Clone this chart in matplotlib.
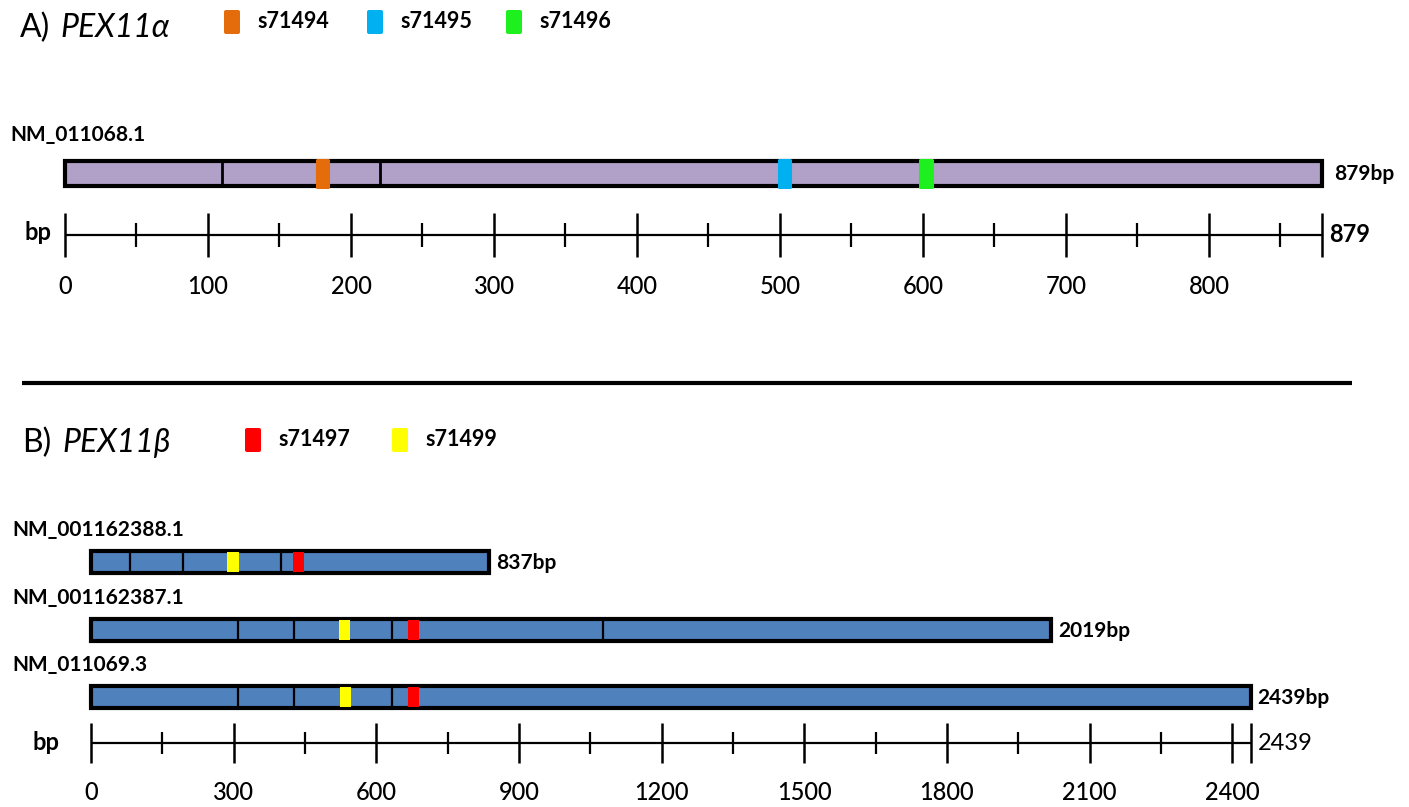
import numpy as np
import matplotlib.pyplot as plt
from matplotlib.patches import Rectangle, FancyBboxPatch

plt.rcParams['font.family'] = ['Lato', 'DejaVu Sans']

W, H = 1409, 807

# PEX11alpha transcript
a_name = "NM_011068.1"
a_length = 879
a_exon_bounds = [110, 220]
a_sirna_names = ["s71494", "s71495", "s71496"]
a_sirna_pos = [180, 503, 602]
a_sirna_colors = ["#E46C0A", "#00B0F0", "#1EEF1E"]

# PEX11beta transcripts
b_names = ["NM_001162388.1", "NM_001162387.1", "NM_011069.3"]
b_lengths = [837, 2019, 2439]
b_exon_bounds = [[81, 194, 400], [309, 426, 634, 1076], [309, 426, 634]]
b_sirna_names = ["s71497", "s71499"]
b_sirna_colors = ["#FF0000", "#FFFF00"]
b_sirna_pos = [[436, 299], [678, 533], [678, 535]]


def panel_axes(fig, origin_px, px_per_bp):
    ax = fig.add_axes([0, 0, 1, 1])
    ax.set_xlim(-origin_px / px_per_bp, (W - origin_px) / px_per_bp)
    ax.set_ylim(H, 0)
    ax.axis("off")
    ax.patch.set_alpha(0)
    return ax


def draw_transcript(ax, y, length, bounds, sites, colors, face, bar_h,
                    site_w, site_h, lw_exon, rounded, label_dx):
    ax.barh(y, length, left=0, height=bar_h, color=face,
            edgecolor="black", linewidth=3, zorder=2)
    ax.vlines(bounds, y - bar_h / 2, y + bar_h / 2, color="black",
              lw=lw_exon, zorder=3)
    for pos, c in zip(sites, colors):
        ax.add_patch(Rectangle((pos - site_w / 2, y - site_h / 2), site_w, site_h,
                               facecolor=c, edgecolor=c,
                               lw=2.2 if rounded else 0, joinstyle="round",
                               zorder=4))
    ax.annotate(f"{length}bp", (length, y), xytext=(label_dx, -1),
                textcoords="offset points", ha="left", va="center",
                fontsize=15, fontweight="bold")


def draw_scale(ax, y, length, major, major_half, minor_half, label_dy, end_weight):
    ax.hlines(y, 0, length, color="black", lw=1.6)
    majors = np.arange(0, length + 1, major)
    minors = np.arange(major / 2, length, major)
    ax.vlines(list(majors) + [length], y - major_half, y + major_half,
              color="black", lw=1.8)
    ax.vlines(minors, y - minor_half, y + minor_half, color="black", lw=1.6)
    for m in majors:
        ax.text(m, y + label_dy, str(m), ha="center", va="center",
                fontsize=17, fontweight="medium")
    ax.annotate(str(length), (length, y), xytext=(5, 0),
                textcoords="offset points", ha="left", va="center",
                fontsize=17, fontweight=end_weight)


def legend_row(lay, xs, y, names, colors):
    for x, name, c in zip(xs, names, colors):
        lay.add_patch(FancyBboxPatch((x + 2, y - 10), 12, 20,
                                     boxstyle="round,pad=2",
                                     facecolor=c, edgecolor="none"))
        lay.text(x + 33, y - 1, name, ha="left", va="center",
                 fontsize=15.5, fontweight="bold")


fig = plt.figure(figsize=(W / 100, H / 100), dpi=100)

lay = fig.add_axes([0, 0, 1, 1])
lay.set_xlim(0, W)
lay.set_ylim(H, 0)
lay.axis("off")

# Panel A
lay.text(20, 28, "A)", fontsize=23, ha="left", va="center")
lay.text(60, 28, "PEX11α", fontsize=23, fontstyle="italic", ha="left", va="center")
legend_row(lay, [224, 367, 506], 22, a_sirna_names, a_sirna_colors)
lay.text(10, 135, a_name, fontsize=15, fontweight="bold", ha="left", va="center")
lay.text(25, 233, "bp", fontsize=17, fontweight="bold", ha="left", va="center")

axa = panel_axes(fig, 65, 1.43)
draw_transcript(axa, 173, a_length, a_exon_bounds, a_sirna_pos, a_sirna_colors,
                "#B1A0C7", 25, 8, 27, 2.0, True, 9)
draw_scale(axa, 235, a_length, 100, 22, 12, 52, "bold")

# separator
lay.hlines(383, 22, 1352, color="black", lw=3)

# Panel B
lay.text(22, 443, "B)", fontsize=23, ha="left", va="center")
lay.text(62, 443, "PEX11β", fontsize=23, fontstyle="italic", ha="left", va="center")
legend_row(lay, [245, 392], 440, b_sirna_names, b_sirna_colors)
lay.text(33, 742, "bp", fontsize=17, fontweight="bold", ha="left", va="center")

axb = panel_axes(fig, 91, 0.4755)
row_y = [562, 630, 697]
for y, name, length, bounds, sites in zip(row_y, b_names, b_lengths,
                                           b_exon_bounds, b_sirna_pos):
    lay.text(12, y - 32, name, fontsize=15, fontweight="bold",
             ha="left", va="center")
    draw_transcript(axb, y, length, bounds, sites, b_sirna_colors,
                    "#4F81BD", 22, 24, 20, 1.6, False, 5)
draw_scale(axb, 743, b_lengths[-1], 300, 20, 11, 50, "normal")

fig.savefig("out.png", dpi=100)
